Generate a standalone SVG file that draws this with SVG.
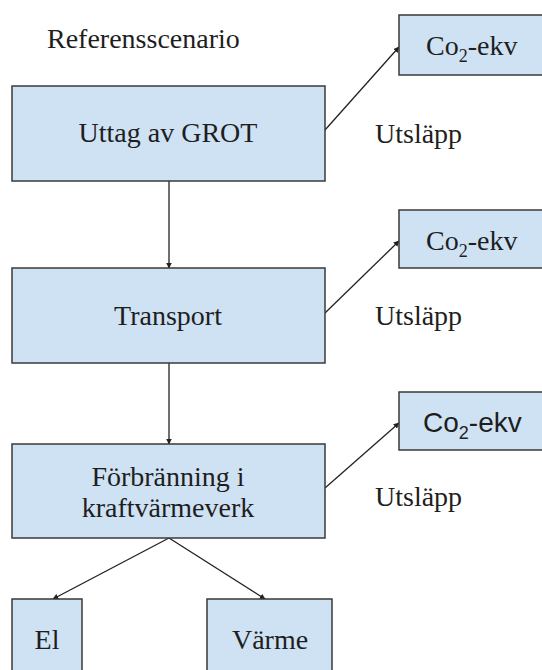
<svg xmlns="http://www.w3.org/2000/svg" width="542" height="670" viewBox="0 0 542 670">
  <style>
    .box { fill: #cfe2f3; stroke: #3a3a3a; stroke-width: 1.5; }
    .t { font-family: "Liberation Serif", "Times New Roman", serif; font-size: 28px; fill: #1e1e1e; }
    .s { font-family: "Liberation Sans", Arial, sans-serif; font-size: 28px; fill: #1e1e1e; }
    .c { text-anchor: middle; }
    .sub { font-size: 18px; }
    .edge { stroke: #222; stroke-width: 1.3; fill: none; marker-end: url(#arrow); }
  </style>
  <defs>
    <marker id="arrow" viewBox="0 0 10 10" refX="9" refY="5" markerWidth="4.5" markerHeight="4.5" orient="auto-start-reverse" markerUnits="strokeWidth">
      <path d="M0,0 L10,5 L0,10 z" fill="#222"/>
    </marker>
  </defs>
  <rect width="542" height="670" fill="#ffffff"/>

  <text class="t" x="47" y="48">Referensscenario</text>

  <g id="connectors">
    <line class="edge" x1="325" y1="130" x2="399" y2="47"/>
    <line class="edge" x1="325" y1="313" x2="399" y2="241"/>
    <line class="edge" x1="325" y1="488" x2="399" y2="423"/>
    <line class="edge" x1="169" y1="181" x2="169" y2="268"/>
    <line class="edge" x1="169" y1="363" x2="169" y2="444"/>
    <line class="edge" x1="169" y1="538" x2="53" y2="599"/>
    <line class="edge" x1="169" y1="538" x2="265" y2="599"/>
  </g>

  <g id="uttag">
    <rect class="box" x="12" y="86" width="313" height="95"/>
    <text class="t c" x="168" y="142">Uttag av GROT</text>
  </g>
  <g id="transport">
    <rect class="box" x="12" y="268" width="313" height="95"/>
    <text class="t c" x="168" y="325">Transport</text>
  </g>
  <g id="forbranning">
    <rect class="box" x="12" y="444" width="313" height="94"/>
    <text class="t c" x="168" y="486">Förbränning i</text>
    <text class="t c" x="168" y="517">kraftvärmeverk</text>
  </g>
  <g id="el">
    <rect class="box" x="12" y="599" width="70" height="80"/>
    <text class="t c" x="47" y="649">El</text>
  </g>
  <g id="varme">
    <rect class="box" x="207" y="599" width="125" height="80"/>
    <text class="t c" x="270" y="649">Värme</text>
  </g>

  <g id="co2-1">
    <rect class="box" x="399" y="15" width="150" height="60"/>
    <text class="t" x="426" y="55">Co<tspan class="sub" dy="7">2</tspan><tspan dy="-7">-ekv</tspan></text>
  </g>
  <g id="co2-2">
    <rect class="box" x="399" y="210" width="150" height="58"/>
    <text class="t" x="426" y="250">Co<tspan class="sub" dy="7">2</tspan><tspan dy="-7">-ekv</tspan></text>
  </g>
  <g id="co2-3">
    <rect class="box" x="399" y="392" width="150" height="58"/>
    <text class="s" x="423" y="432">Co<tspan class="sub" dy="7">2</tspan><tspan dy="-7">-ekv</tspan></text>
  </g>

  <g id="utslapp">
    <text class="t" x="375" y="143">Utsläpp</text>
    <text class="t" x="375" y="325">Utsläpp</text>
    <text class="t" x="375" y="506">Utsläpp</text>
  </g>
</svg>
